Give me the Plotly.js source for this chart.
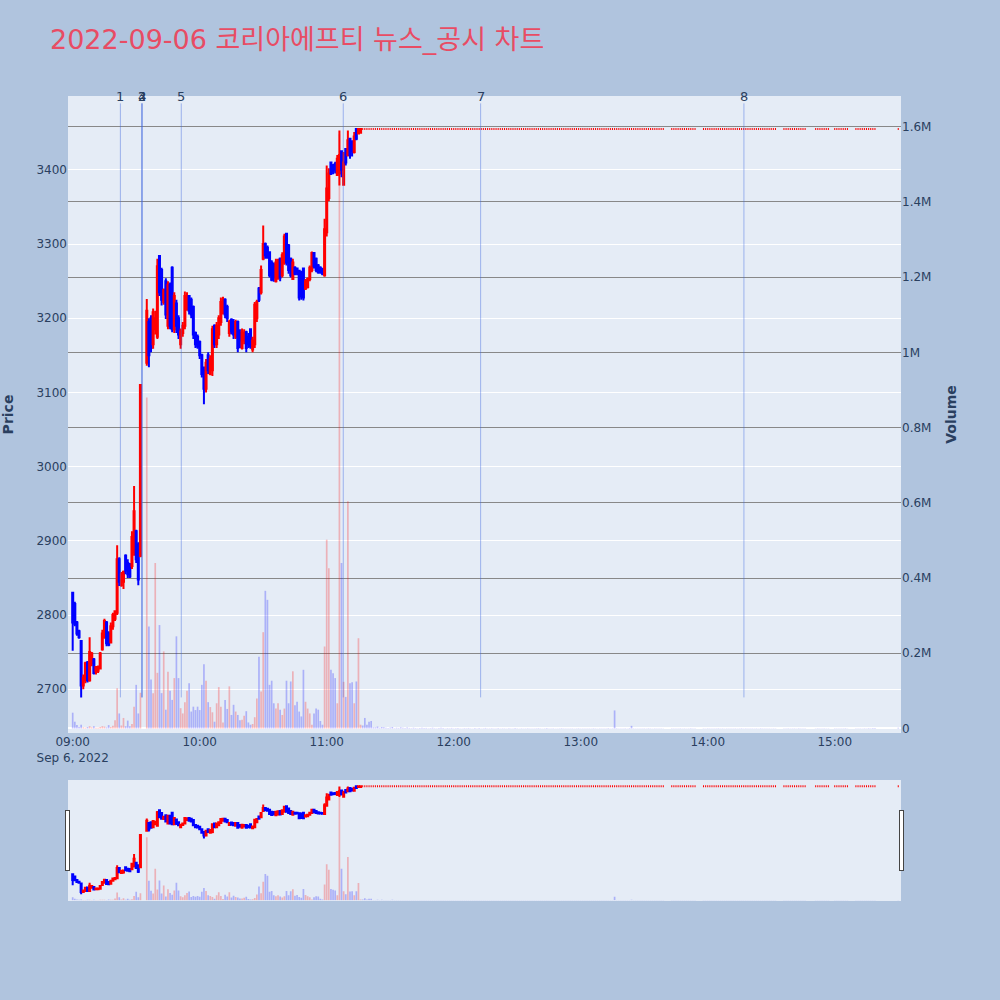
<!DOCTYPE html>
<html><head><meta charset="utf-8">
<script src="https://cdn.plot.ly/plotly-3.0.1.min.js"></script>
<style>body{margin:0;background:#B0C4DE;} #chart{width:1000px;height:1000px;}</style>
</head><body><div id="chart"></div>
<script>
const TRADE_DAY = '2022-09-06';
const chartTitle = '2022-09-06 코리아에프티 뉴스_공시 차트';

// minute offsets from 09:00 for the active session (09:33-09:34 halted)
const activeMinutes = [0,1,2,3,4,5,6,7,8,9,10,11,12,13,14,15,16,17,18,19,20,21,22,23,24,25,26,27,28,29,30,31,32,
 35,36,37,38,39,40,41,42,43,44,45,46,47,48,49,50,51,52,53,54,55,56,57,58,59,60,61,62,63,64,65,66,67,68,69,70,
 71,72,73,74,75,76,77,78,79,80,81,82,83,84,85,86,87,88,89,90,91,92,93,94,95,96,97,98,99,100,101,102,103,104,105,
 106,107,108,109,110,111,112,113,114,115,116,117,118,119,120,121,122,123,124,125,126,127,128,129,130,131,132,133,134,135,136];
const openP = [2830,2815,2790,2778,2765,2705,2712,2736,2712,2735,2740,2724,2725,2728,2754,2770,2790,2775,2763,2785,2795,2803,2875,2840,2845,2880,2870,2868,2866,2885,2913,2895,2880,
 3140,3195,3200,3165,3185,3175,3284,3265,3222,3250,3190,3245,3268,3185,3220,3200,3165,3180,3190,3215,3230,3225,3215,3180,3175,3168,3150,3130,3105,3150,3125,3130,
 3190,3165,3178,3195,3210,3225,3215,3180,3198,3195,3175,3195,3180,3160,3170,3181,3175,3185,3158,3165,3200,3240,3235,3280,3300,3295,3289,3275,3272,3250,3255,3280,3258,3275,
 3314,3298,3280,3253,3268,3267,3264,3262,3267,3240,3242,3253,3265,3288,3280,3271,3268,3266,3258,3316,3362,3410,3405,3408,3393,3395,3425,3380,3428,3420,3442,3438,3424,3455,3449,3450];
const highP = [2831,2818,2792,2780,2765,2720,2737,2738,2770,2750,2742,2731,2732,2750,2780,2795,2792,2778,2790,2803,2806,2894,2878,2858,2860,2882,2875,2870,2913,2974,2915,2898,3111,
 3226,3200,3204,3213,3210,3280,3285,3268,3240,3254,3250,3248,3270,3235,3225,3204,3186,3195,3236,3235,3231,3228,3217,3182,3178,3170,3152,3135,3145,3154,3150,3190,
 3192,3195,3204,3228,3229,3227,3218,3198,3200,3199,3198,3197,3185,3186,3185,3183,3180,3186,3175,3222,3225,3242,3271,3325,3302,3298,3290,3278,3275,3280,3280,3282,3289,3314,
 3315,3300,3282,3280,3270,3268,3265,3264,3268,3253,3255,3271,3290,3289,3282,3273,3270,3268,3334,3406,3402,3411,3408,3411,3420,3453,3426,3424,3429,3453,3443,3440,3451,3455,3455,3455];
const lowP = [2752,2785,2772,2768,2689,2700,2708,2709,2710,2731,2720,2720,2722,2727,2752,2768,2758,2758,2762,2780,2792,2800,2839,2838,2835,2855,2850,2850,2862,2880,2870,2840,2878,
 3136,3134,3154,3159,3178,3172,3230,3217,3218,3199,3185,3185,3181,3180,3180,3172,3159,3175,3185,3210,3205,3200,3172,3160,3159,3145,3120,3084,3100,3125,3123,3122,
 3160,3160,3172,3190,3205,3200,3195,3175,3178,3172,3172,3154,3160,3158,3165,3154,3160,3159,3154,3160,3195,3222,3232,3278,3280,3280,3255,3250,3249,3248,3252,3250,3255,3272,
 3271,3260,3255,3252,3258,3258,3224,3225,3224,3238,3240,3250,3262,3267,3262,3260,3260,3258,3256,3310,3358,3393,3394,3395,3392,3379,3390,3379,3406,3418,3415,3418,3422,3440,3448,3449];
const closeP = [2790,2788,2775,2770,2705,2715,2735,2712,2750,2748,2722,2730,2730,2748,2775,2792,2762,2760,2785,2800,2805,2875,2845,2855,2858,2860,2855,2852,2905,2940,2875,2848,3110,
 3210,3150,3160,3208,3200,3270,3235,3225,3238,3205,3245,3190,3185,3230,3190,3178,3182,3190,3230,3225,3210,3205,3178,3165,3162,3150,3125,3105,3140,3130,3145,3185,
 3165,3190,3200,3222,3225,3205,3200,3195,3182,3178,3195,3160,3170,3182,3180,3160,3165,3162,3170,3218,3222,3225,3265,3300,3285,3282,3258,3252,3255,3275,3278,3255,3285,3310,
 3275,3265,3258,3275,3260,3262,3228,3230,3228,3250,3253,3268,3288,3270,3265,3262,3262,3260,3320,3375,3395,3395,3398,3400,3415,3420,3400,3410,3410,3440,3420,3425,3445,3442,3455,3455];
const volumeShares = [42000,18000,9000,4000,10000,3000,2000,4000,6000,3000,6000,2000,2000,4000,6000,5000,3000,9000,4000,7000,22000,107000,40000,8000,28000,6000,21000,6000,12000,58000,116000,40000,95000,
 880000,271000,130000,94000,440000,148000,275000,94000,205000,50000,151000,100000,76000,134000,245000,134000,54000,40000,70000,100000,120000,45000,58000,49000,58000,49000,116000,171000,127000,70000,57000,43000,
 18000,67000,110000,58000,16000,76000,52000,112000,36000,63000,45000,36000,22000,23000,34000,46000,16000,10000,12000,30000,80000,191000,98000,256000,366000,342000,116000,127000,67000,53000,67000,50000,36000,53000,
 127000,67000,125000,152000,62000,71000,45000,32000,156000,71000,53000,40000,10000,40000,53000,50000,20000,10000,218000,502000,426000,156000,147000,134000,67000,1580000,440000,124000,84000,604000,120000,123000,67000,125000,240000,10000];

// after 11:17 the stock sat at the upper limit; volume per minute from 11:17 to 15:19 (0 = no trade)
const LIMIT_PRICE = 3455;
const lateStartMinute = 137;
const lateVolume = [
 8000,28000,10000,18000,20000,3000,3000,5000,2000,4000,
 3000,2000,1500,2500,4000,1000,2000,1500,3000,2000,
 1000,2500,1500,1000,2000,1200,800,1500,2000,1000,
 1500,900,1200,2000,1000,700,1300,1800,1000,600,
 1200,900,1500,700,1000,1300,800,600,1100,900,
 1400,700,500,1000,800,1200,600,900,1500,700,
 800,1000,500,700,1200,600,900,800,500,1000,
 700,600,1100,800,500,900,600,700,1000,500,
 800,600,900,1200,700,500,800,1000,600,700,
 900,500,600,800,1100,700,500,900,600,800,
 500,700,1000,600,800,500,900,700,600,1000,
 700,500,800,600,900,700,1200,500,800,48000,
 1000,600,800,700,900,500,1200,7000,800,600,
 700,900,500,800,600,1000,700,500,800,600,
 900,700,500,0,0,0,800,600,700,500,
 900,600,800,500,700,1000,600,800,0,0,
 0,700,500,900,600,800,500,700,1000,600,
 800,500,700,600,900,500,800,600,700,1000,
 600,800,500,900,700,600,800,500,1000,700,
 600,800,900,500,700,600,0,0,0,800,
 500,900,600,700,800,500,1000,600,700,800,
 0,0,0,0,600,900,500,700,800,600,
 700,0,0,800,500,900,600,700,1000,500,
 0,0,0,700,600,800,500,900,600,1200,
 800,1000,1500];
const closingMinute = 390;
const closingVolume = 2000;

const newsLabels = ['1','2','3','4','5','6','7','8'];
const newsTimes = ['09:22:32','09:32:43','09:32:44','09:32:45','09:51:18','11:07:49','12:12:43','14:17:06'];

// ---- build series ----
function minuteToTime(m){
  const h = 9 + Math.floor(m/60), mm = m % 60;
  return TRADE_DAY + ' ' + String(h).padStart(2,'0') + ':' + String(mm).padStart(2,'0') + ':00';
}
const X = [], O = [], H = [], L = [], C = [], V = [];
activeMinutes.forEach((m,i)=>{ X.push(minuteToTime(m)); O.push(openP[i]); H.push(highP[i]); L.push(lowP[i]); C.push(closeP[i]); V.push(volumeShares[i]); });
lateVolume.forEach((v,i)=>{ if(v>0){ X.push(minuteToTime(lateStartMinute+i)); O.push(LIMIT_PRICE); H.push(LIMIT_PRICE); L.push(LIMIT_PRICE); C.push(LIMIT_PRICE); V.push(v);} });
X.push(minuteToTime(closingMinute)); O.push(LIMIT_PRICE); H.push(LIMIT_PRICE); L.push(LIMIT_PRICE); C.push(LIMIT_PRICE); V.push(closingVolume);

const volColors = C.map((c,i)=> c > O[i] ? 'rgba(255,0,0,0.25)' : 'rgba(0,0,255,0.25)');

const candle = {
  type:'candlestick', x:X, open:O, high:H, low:L, close:C, yaxis:'y', name:'Price',
  increasing:{line:{color:'#FF0000', width:2}, fillcolor:'#FF0000'},
  decreasing:{line:{color:'#0000FF', width:2}, fillcolor:'#0000FF'},
  hoverinfo:'skip'
};
const vol = {
  type:'bar', x:X, y:V, yaxis:'y2', name:'Volume', marker:{color:volColors, line:{width:0}}, hoverinfo:'skip'
};

const dayLow = Math.min(...L), dayHigh = Math.max(...H);
const shapes = newsTimes.map(t=>({
  type:'line', xref:'x', yref:'y', x0:TRADE_DAY+' '+t, x1:TRADE_DAY+' '+t, y0:dayLow, y1:dayHigh*1.01,
  line:{color:'rgba(65,105,225,0.45)', width:1}
}));
const annotations = newsTimes.map((t,i)=>({
  xref:'x', yref:'paper', x:TRADE_DAY+' '+t, y:1, yanchor:'middle', showarrow:false,
  text:newsLabels[i], font:{size:13, color:'#2a3f5f'}
}));

const FONT = '"DejaVu Sans", Verdana, sans-serif';
const layout = {
  width:1000, height:1000,
  paper_bgcolor:'#B0C4DE', plot_bgcolor:'#E5ECF6',
  font:{family:FONT, size:12, color:'#2a3f5f'},
  title:{text:chartTitle, x:0.05, xanchor:'left', y:0.96, yanchor:'middle',
    font:{family:'"DejaVu Sans", "Noto Sans CJK KR", sans-serif', size:27, color:'#E84C64'}},
  margin:{l:68, r:99, t:96, b:100},
  showlegend:false,
  bargap:0.2,
  xaxis:{type:'date', range:['2022-09-06 08:57:47','2022-09-06 15:31:18'], showgrid:false, dtick:3600000,
    zeroline:false, ticks:'', rangeslider:{visible:true, thickness:0.15, bgcolor:'#E5ECF6', borderwidth:0}},
  yaxis:{title:{text:'Price', standoff:20, font:{size:14, weight:'bold', color:'#2a3f5f'}}, range:[2641,3499.5], dtick:100,
    gridcolor:'white', gridwidth:1, zeroline:false, ticks:''},
  yaxis2:{title:{text:'Volume', standoff:15, font:{size:14, weight:'bold', color:'#2a3f5f'}}, overlaying:'y', side:'right',
    range:[-12000,1681500], dtick:200000, showgrid:true, gridcolor:'#888888', gridwidth:1,
    zeroline:true, zerolinecolor:'white', zerolinewidth:2, ticks:''},
  shapes:shapes, annotations:annotations
};
Plotly.newPlot('chart', [vol, candle], layout, {displayModeBar:false});
</script></body></html>
